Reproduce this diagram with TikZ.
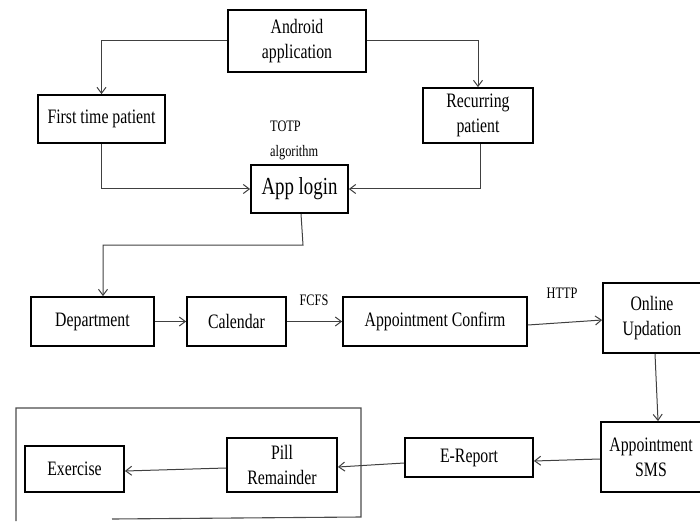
\documentclass[tikz,border=0pt]{standalone}
\usepackage{fontspec}
\setmainfont{Liberation Serif}[FakeStretch=0.77]
\usetikzlibrary{arrows.meta}
\begin{document}
\begin{tikzpicture}[x=1pt,y=-1pt,
  box/.style={draw=black,line width=1.8pt,align=center,inner sep=0pt,
    font=\fontsize{20.5}{25}\selectfont},
  lbl/.style={inner sep=0pt,align=left,font=\fontsize{16}{25}\selectfont},
  conn/.style={draw=black!75,line width=1pt,-{Straight Barb[length=6pt,width=9pt]}},
  frame/.style={draw=black!70,line width=1.1pt}]
\useasboundingbox (0,0) rectangle (700,521);
% nodes
\node[box,minimum width=138pt,minimum height=62pt] (android) at (297,41) {Android\\application};
\node[box,minimum width=127pt,minimum height=48pt] (first) at (101.5,119) {First time patient};
\node[box,minimum width=110pt,minimum height=55pt] (recur) at (478,115.5) {Recurring\\patient};
\node[box,minimum width=97pt,minimum height=48pt,font=\fontsize{24.5}{28}\selectfont] (login) at (299.5,189) {App login};
\node[lbl,anchor=west] (totp) at (270,140) {TOTP\\algorithm};
\node[box,minimum width=123pt,minimum height=49pt] (dept) at (92.5,321.5) {Department};
\node[box,minimum width=99pt,minimum height=49pt] (cal) at (236.5,321.5) {Calendar};
\node[box,minimum width=184pt,minimum height=49pt] (conf) at (435,321.5) {Appointment Confirm};
\node[box,minimum width=98pt,minimum height=70pt] (online) at (652,318) {Online\\Updation};
\node[box,minimum width=100pt,minimum height=70pt] (sms) at (651,457) {Appointment\\SMS};
\node[box,minimum width=128pt,minimum height=39pt] (erep) at (469,457.5) {E-Report};
\node[box,minimum width=110pt,minimum height=54pt] (pill) at (282,465) {Pill\\Remainder};
\node[box,minimum width=99pt,minimum height=46pt] (exer) at (74.5,469) {Exercise};
\node[lbl] (fcfs) at (314,300) {FCFS};
\node[lbl] (http) at (562,293) {HTTP};
% frame around exercise / pill
\draw[frame] (112,519) -- (361,517) -- (361,408) -- (16,408) -- (16,521);
% connectors
\draw[conn] (android.west) -| (first.north);
\draw[conn] (android.east) -| (recur.north);
\draw[conn] (first.south) |- (login.west);
\draw[conn] ([xshift=2pt]recur.south) |- (login.east);
\coordinate (k1) at (303,245);
\draw[conn] ([xshift=1.5pt]login.south) -- (k1) -| ([xshift=10.5pt]dept.north);
\draw[conn] (dept.east) -- (cal.west);
\draw[conn] (cal.east) -- (conf.west);
\draw[conn] ([yshift=-3.5pt]conf.east) -- ([yshift=-2pt]online.west);
\draw[conn] ([xshift=3pt]online.south) -- ([xshift=7pt]sms.north);
\draw[conn] ([yshift=-2pt]sms.west) -- ([yshift=-3.5pt]erep.east);
\draw[conn] ([yshift=-5.5pt]erep.west) -- ([yshift=-2pt]pill.east);
\draw[conn] ([yshift=-3pt]pill.west) -- ([yshift=-2pt]exer.east);
\end{tikzpicture}
\end{document}
